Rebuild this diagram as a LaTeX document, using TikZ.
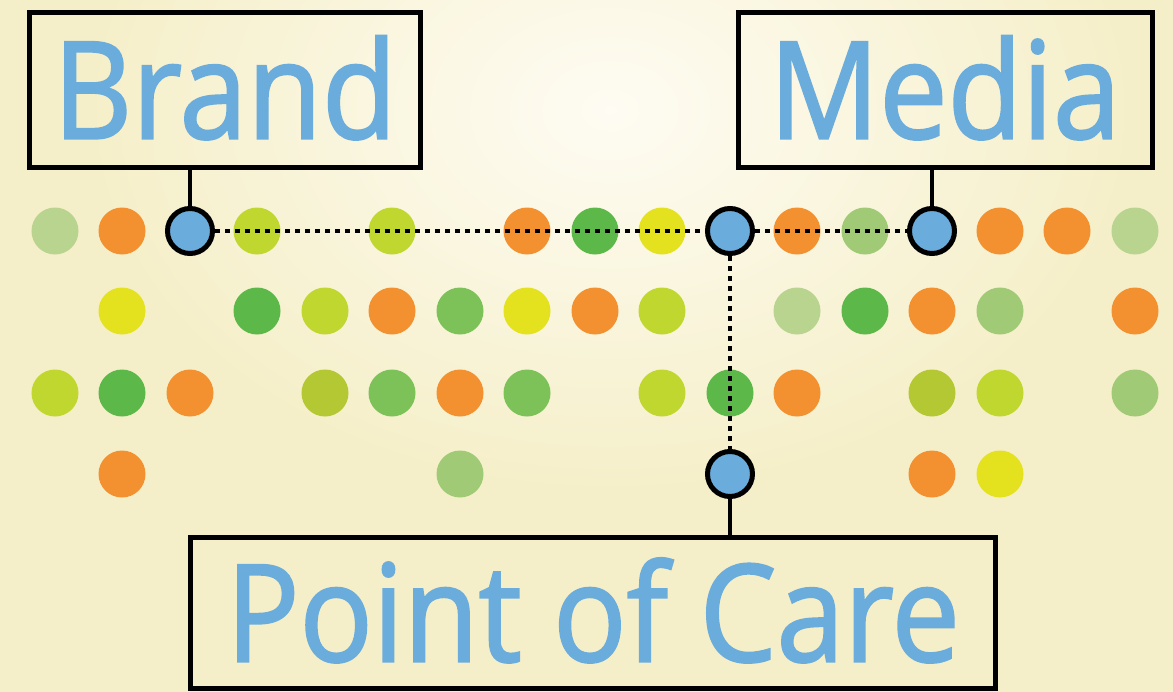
\documentclass[tikz,border=0pt]{standalone}
\usepackage{fontspec}
\usepackage{tikz}

\newfontfamily\tagfont[FakeStretch=0.9, FakeBold=1.6]{Open Sans}

\definecolor{cream}{RGB}{245,239,201}
\definecolor{glow}{RGB}{254,252,243}
\definecolor{sky}{RGB}{106,172,220}
\definecolor{pale}{RGB}{184,212,143}
\definecolor{sage}{RGB}{160,202,118}
\definecolor{leaf}{RGB}{125,194,88}
\definecolor{grass}{RGB}{92,184,72}
\definecolor{lime}{RGB}{192,215,48}
\definecolor{olive}{RGB}{180,200,52}
\definecolor{lemon}{RGB}{228,226,30}
\definecolor{tangerine}{RGB}{243,144,48}

\begin{document}
\begin{tikzpicture}[x=0.2mm, y=-0.2mm,
    dot/.style={circle, minimum size=9.4mm, inner sep=0pt},
    hub/.style={circle, draw=black, line width=1mm, fill=sky, minimum size=9mm, inner sep=0pt},
    tag/.style={draw=black, line width=1mm, text=sky, inner sep=0pt,
        font={\tagfont\fontsize{77}{80}\selectfont}, text height=19.4mm, text depth=0pt},
    link/.style={line width=0.8mm},
    trail/.style={line width=0.8mm, dash pattern=on 0.9mm off 1.1mm}]

    \useasboundingbox (0,0) rectangle (1173,692);
    \fill[cream] (0,0) rectangle (1173,692);
    \begin{scope}
        \clip (0,0) rectangle (1173,692);
        \shade[inner color=glow, outer color=cream] (610,110) ellipse (520 and 380);
    \end{scope}

    \node[tag, minimum width=78mm, minimum height=31mm] (brand) at (225,90) {Brand};
    \node[tag, minimum width=82.8mm, minimum height=31mm] (media) at (945,90) {Media};
    \node[tag, minimum width=161mm, minimum height=30.2mm] (care) at (593,613) {Point of Care};

    \node[dot, fill=pale] (r1c0) at (55,231) {};
    \node[dot, fill=tangerine] (r1c1) at (122,231) {};
    \node[dot, fill=lime] (r1c3) at (257,231) {};
    \node[dot, fill=lime] (r1c5) at (392,231) {};
    \node[dot, fill=tangerine] (r1c7) at (527,231) {};
    \node[dot, fill=grass] (r1c8) at (595,231) {};
    \node[dot, fill=lemon] (r1c9) at (662,231) {};
    \node[dot, fill=tangerine] (r1c11) at (797,231) {};
    \node[dot, fill=sage] (r1c12) at (865,231) {};
    \node[dot, fill=tangerine] (r1c14) at (1000,231) {};
    \node[dot, fill=tangerine] (r1c15) at (1067,231) {};
    \node[dot, fill=pale] (r1c16) at (1135,231) {};

    \node[dot, fill=lemon] (r2c1) at (122,311) {};
    \node[dot, fill=grass] (r2c3) at (257,311) {};
    \node[dot, fill=lime] (r2c4) at (325,311) {};
    \node[dot, fill=tangerine] (r2c5) at (392,311) {};
    \node[dot, fill=leaf] (r2c6) at (460,311) {};
    \node[dot, fill=lemon] (r2c7) at (527,311) {};
    \node[dot, fill=tangerine] (r2c8) at (595,311) {};
    \node[dot, fill=lime] (r2c9) at (662,311) {};
    \node[dot, fill=pale] (r2c11) at (797,311) {};
    \node[dot, fill=grass] (r2c12) at (865,311) {};
    \node[dot, fill=tangerine] (r2c13) at (932,311) {};
    \node[dot, fill=sage] (r2c14) at (1000,311) {};
    \node[dot, fill=tangerine] (r2c16) at (1135,311) {};

    \node[dot, fill=lime] (r3c0) at (55,393) {};
    \node[dot, fill=grass] (r3c1) at (122,393) {};
    \node[dot, fill=tangerine] (r3c2) at (190,393) {};
    \node[dot, fill=olive] (r3c4) at (325,393) {};
    \node[dot, fill=leaf] (r3c5) at (392,393) {};
    \node[dot, fill=tangerine] (r3c6) at (460,393) {};
    \node[dot, fill=leaf] (r3c7) at (527,393) {};
    \node[dot, fill=lime] (r3c9) at (662,393) {};
    \node[dot, fill=grass] (r3c10) at (730,393) {};
    \node[dot, fill=tangerine] (r3c11) at (797,393) {};
    \node[dot, fill=olive] (r3c13) at (932,393) {};
    \node[dot, fill=lime] (r3c14) at (1000,393) {};
    \node[dot, fill=sage] (r3c16) at (1135,393) {};

    \node[dot, fill=tangerine] (r4c1) at (122,474) {};
    \node[dot, fill=sage] (r4c6) at (460,474) {};
    \node[dot, fill=tangerine] (r4c13) at (932,474) {};
    \node[dot, fill=lemon] (r4c14) at (1000,474) {};

    \node[hub] (b) at (190,231) {};
    \node[hub] (x) at (730,231) {};
    \node[hub] (m) at (932,231) {};
    \node[hub] (p) at (730,474) {};

    \draw[trail] (b) -- (x);
    \draw[trail] (x) -- (m);
    \draw[trail] (x) -- (p);

    \draw[link] (b) -- (b |- brand.south);
    \draw[link] (m) -- (m |- media.south);
    \draw[link] (p) -- (p |- care.north);
\end{tikzpicture}
\end{document}
